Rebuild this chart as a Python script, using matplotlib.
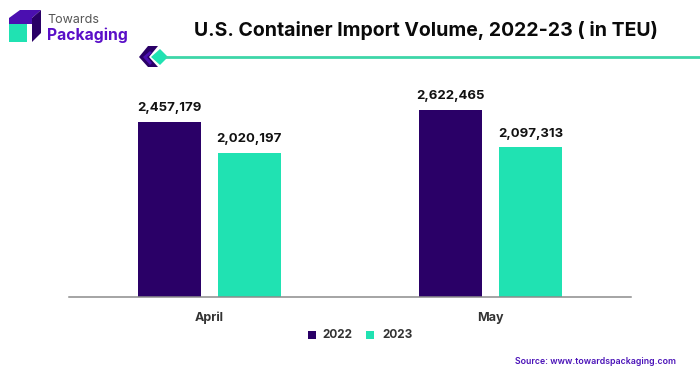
import matplotlib
matplotlib.use("Agg")
import matplotlib.pyplot as plt
from matplotlib.patches import Polygon, Rectangle

categories = ["April", "May"]
series_names = ["2022", "2023"]
values_2022 = [2457179, 2622465]
values_2023 = [2020197, 2097313]
title = "U.S. Container Import Volume, 2022-23 ( in TEU)"
source = "Source: www.towardspackaging.com"

DARK = "#2A0067"
TEAL = "#20E2B2"
W, H = 700, 376
plt.rcParams["font.family"] = ["Inter", "DejaVu Sans"]

fig = plt.figure(figsize=(7, 3.76), dpi=100, facecolor="white")
ax = fig.add_axes([69 / W, 1 - 297 / H, 562 / W, 237 / H])
width, off = 0.224, 0.142
xs = range(len(categories))
ax.bar([x - off for x in xs], values_2022, width, color=DARK)
ax.bar([x + off for x in xs], values_2023, width, color=TEAL)
for i in xs:
    ax.annotate(f"{values_2022[i]:,}", (i - off, values_2022[i]), xytext=(0, 5.5), textcoords="offset points",
                ha="center", va="bottom", fontsize=9.5, fontweight="bold", color="#111111")
    ax.annotate(f"{values_2023[i]:,}", (i + off, values_2023[i]), xytext=(0, 5.5), textcoords="offset points",
                ha="center", va="bottom", fontsize=9.5, fontweight="bold", color="#111111")
ax.set_xlim(-0.5, 1.5)
ax.set_ylim(0, 3319000)
ax.set_xticks(list(xs), categories, fontsize=9, fontweight="bold", color="#333333")
ax.tick_params(axis="x", length=0, pad=10.5)
ax.set_yticks([])
for s in ["top", "left", "right"]:
    ax.spines[s].set_visible(False)
ax.spines["bottom"].set_color("#8C8C8C")
ax.spines["bottom"].set_linewidth(1.1)

# pixel-space overlay for header, logo, legend
ov = fig.add_axes([0, 0, 1, 1], facecolor="none")
ov.set_xlim(0, W)
ov.set_ylim(H, 0)
ov.axis("off")
ov.text(425.5, 30, title, ha="center", va="center", fontsize=14, fontweight="bold", color="#0A0A0A")
ov.text(676, 362, source, ha="right", va="center", fontsize=6.3, fontweight="semibold", color="#4A12B8")

# logo
ov.add_patch(Polygon([(9, 18), (20, 10), (41, 10), (32, 18), (32, 24), (9, 24)], color="#4B0FB0", lw=0))
ov.add_patch(Polygon([(32, 18), (41, 10), (41, 33), (32, 42)], color=DARK, lw=0))
ov.add_patch(Rectangle((9, 24), 18, 18, color=TEAL, lw=0))
ov.text(47, 20, "Towards", ha="left", va="center", fontsize=9, color="#555555")
ov.text(47, 35.5, "Packaging", ha="left", va="center", fontsize=11.3, fontweight="bold", color="#5A0FC8")

# divider ornament
ov.plot([165, 700], [57, 57], color="#3DD6A8", lw=2, solid_capstyle="butt")
ov.add_patch(Polygon([(139, 57), (148, 46), (158, 46), (149, 57), (158, 67), (148, 67)], color=DARK, lw=0))
ov.add_patch(Polygon([(143, 57), (150, 51), (152, 53), (147, 57), (152, 63), (150, 65)], color="#4B0FB0", lw=0))
ov.add_patch(Polygon([(151, 57), (160, 49), (168, 57), (160, 65)], color=TEAL, lw=0))

# legend
ov.add_patch(Rectangle((308, 331), 8, 8, color=DARK, lw=0))
ov.add_patch(Rectangle((366, 331), 8, 8, color=TEAL, lw=0))
ov.text(322, 335.5, series_names[0], ha="left", va="center", fontsize=8.5, fontweight="bold", color="#333333")
ov.text(382, 335.5, series_names[1], ha="left", va="center", fontsize=8.5, fontweight="bold", color="#333333")

fig.savefig("out.png", dpi=100)
